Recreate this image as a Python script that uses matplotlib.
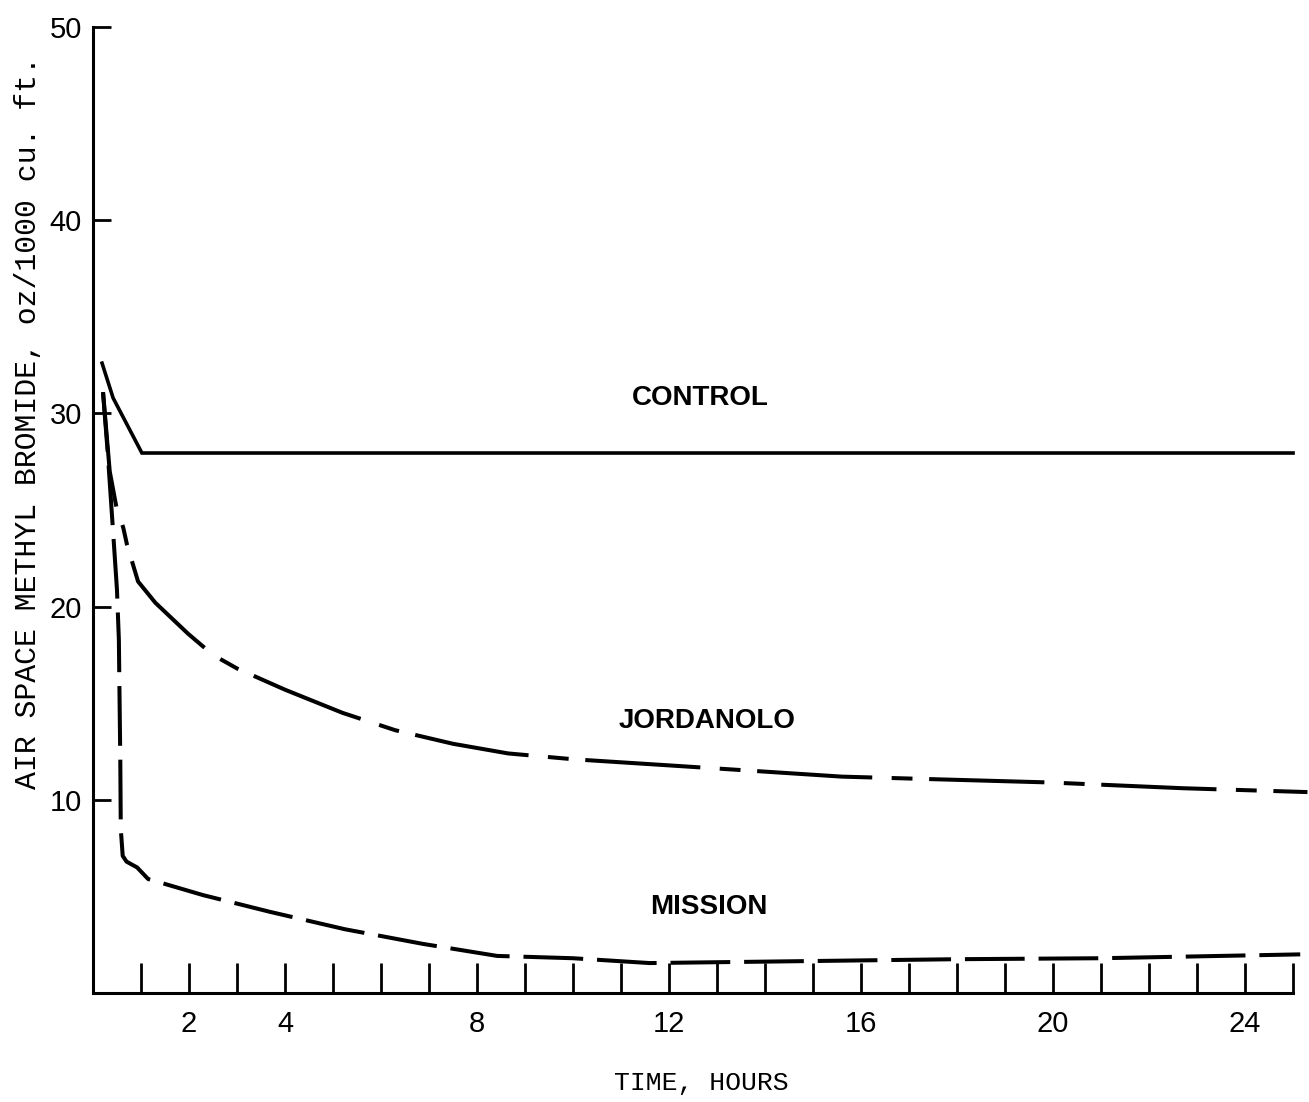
"""
Air space methyl bromide concentration over time for control and two treatments.
Values read off a scanned figure.
"""

import matplotlib
matplotlib.use("Agg")
import matplotlib.pyplot as plt

# hours / oz per 1000 cu. ft.
control_t = [0.19, 0.42, 1.02, 25.0]
control_v = [32.6, 30.8, 27.95, 27.95]

jordanolo_t = [0.21, 0.35, 0.50, 0.63, 0.71, 0.94, 1.3, 1.98, 2.5, 3.0, 4.0,
               5.2, 6.3, 7.5, 8.65, 10.0, 12.2, 15.6, 19.9, 22.7, 25.3]
jordanolo_v = [31.1, 27.0, 25.0, 24.1, 23.2, 21.3, 20.2, 18.6, 17.5, 16.8, 15.7,
               14.5, 13.6, 12.9, 12.4, 12.1, 11.75, 11.2, 10.9, 10.6, 10.4]

mission_t = [0.21, 0.31, 0.40, 0.50, 0.54, 0.57, 0.58, 0.62, 0.70, 0.92, 1.15,
             2.29, 3.69, 5.25, 6.88, 8.42, 10.0, 11.6, 14.8, 18.0, 21.0, 25.15]
mission_v = [31.1, 27.9, 24.6, 20.9, 18.3, 12.0, 8.5, 7.1, 6.8, 6.5, 5.9,
             5.07, 4.2, 3.3, 2.54, 1.92, 1.8, 1.55, 1.65, 1.75, 1.8, 2.0]

x_ticks = list(range(1, 26))
x_labeled = {2, 4, 8, 12, 16, 20, 24}
y_ticks = [10, 20, 30, 40, 50]

plt.rcParams["lines.scale_dashes"] = False

fig = plt.figure(figsize=(13.09, 11.02), dpi=100)
ax = fig.add_axes([0.0710, 0.0989, 0.9168, 0.8766])

ax.plot(control_t, control_v, color="black", lw=2.6, clip_on=False,
        solid_joinstyle="miter")
ax.plot(jordanolo_t, jordanolo_v, color="black", lw=2.9, clip_on=False,
        linestyle=(0, (83, 14, 15, 12)))
ax.plot(mission_t, mission_v, color="black", lw=2.9, clip_on=False,
        linestyle=(0, (43, 10)))

label_kw = dict(ha="center", va="center", fontsize=20, fontweight="bold",
                family="Liberation Sans")
ax.text(12.65, 30.8, "CONTROL", **label_kw)
ax.text(12.79, 14.1, "JORDANOLO", **label_kw)
ax.text(12.83, 4.45, "MISSION", **label_kw)

ax.set_xlim(0, 25)
ax.set_ylim(0, 50)

ax.set_xticks(x_ticks)
ax.set_xticklabels([str(t) if t in x_labeled else "" for t in x_ticks])
ax.set_yticks(y_ticks)
ax.tick_params(axis="x", direction="in", length=21.5, width=2, pad=12,
               labelsize=21)
ax.tick_params(axis="y", direction="in", length=13, width=2, pad=8,
               labelsize=21)
for lab in ax.get_xticklabels() + ax.get_yticklabels():
    lab.set_family("Liberation Sans")

for side in ("top", "right"):
    ax.spines[side].set_visible(False)
for side in ("left", "bottom"):
    ax.spines[side].set_linewidth(2.2)

fig.text(0.5355, 0.006, "TIME, HOURS", ha="center", va="bottom",
         fontsize=19, family="Liberation Mono")
fig.text(0.0214, 0.617, "AIR SPACE METHYL BROMIDE, oz/1000 cu. ft.",
         ha="center", va="center", rotation=90, fontsize=21.5,
         family="Liberation Mono")

fig.savefig("out.png", dpi=100)
